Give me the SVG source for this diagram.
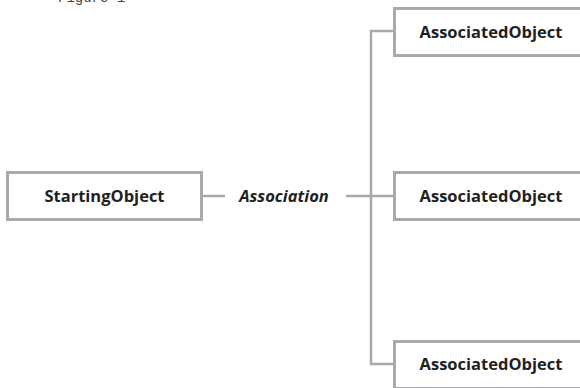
<svg xmlns="http://www.w3.org/2000/svg" width="580" height="388" viewBox="0 0 580 388">
  <style>
    .box { fill: #ffffff; stroke: #a7a9ac; stroke-width: 3; }
    .wire { fill: none; stroke: #a7a9ac; stroke-width: 2.5; }
    .label { font-family: "Open Sans", "Noto Sans", sans-serif; font-weight: bold; font-size: 16.5px; fill: #231f20; text-anchor: middle; }
    .assoc { font-style: italic; }
    .caption { font-family: "Liberation Mono", monospace; font-size: 14px; fill: #444444; }
  </style>
  <rect width="580" height="388" fill="#ffffff"/>

  <text class="caption" x="58" y="2">Figure 1</text>

  <!-- connectors -->
  <g id="connectors">
    <line class="wire" x1="202" y1="196" x2="225" y2="196"/>
    <line class="wire" x1="346" y1="196" x2="394" y2="196"/>
    <polyline class="wire" points="394,31 371,31 371,364 394,364"/>
  </g>

  <g id="starting-object">
    <rect class="box" x="7.5" y="172.5" width="194" height="47"/>
    <text class="label" x="104.5" y="202">StartingObject</text>
  </g>

  <g id="association-label">
    <text class="label assoc" x="284" y="202">Association</text>
  </g>

  <g id="associated-object-1">
    <rect class="box" x="394.5" y="8.5" width="200" height="47"/>
    <text class="label" x="491" y="38">AssociatedObject</text>
  </g>

  <g id="associated-object-2">
    <rect class="box" x="394.5" y="172.5" width="200" height="47"/>
    <text class="label" x="491" y="202">AssociatedObject</text>
  </g>

  <g id="associated-object-3">
    <rect class="box" x="394.5" y="341.5" width="200" height="47"/>
    <text class="label" x="491" y="370">AssociatedObject</text>
  </g>
</svg>
